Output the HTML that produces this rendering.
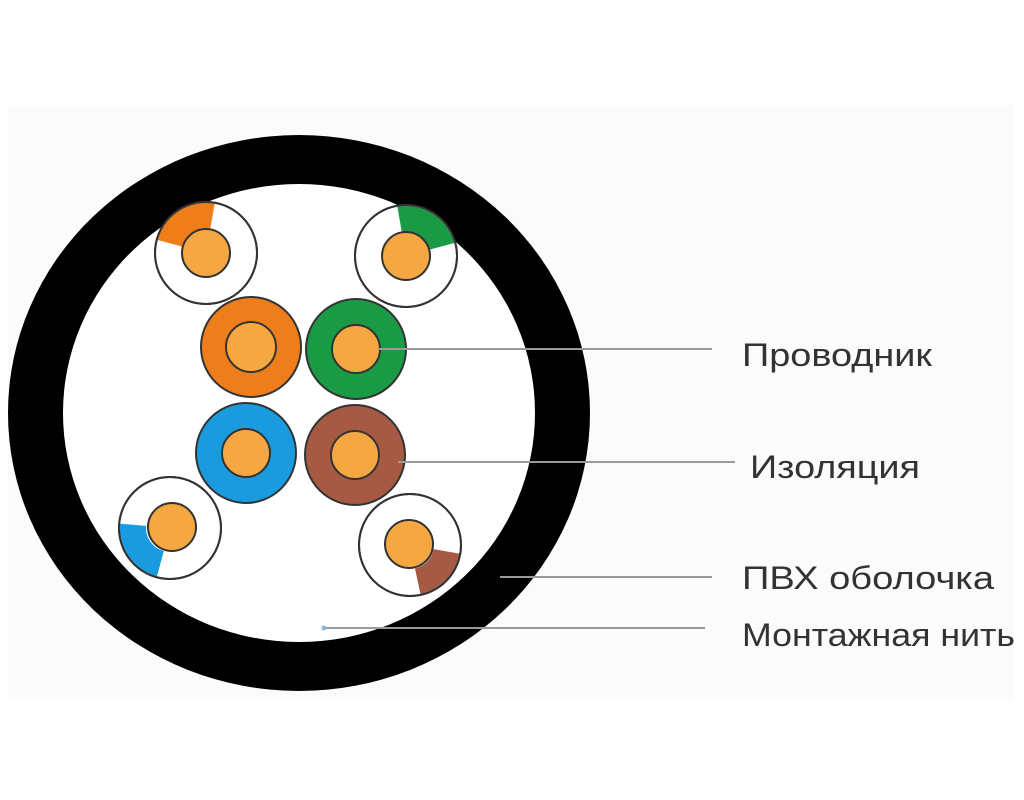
<!DOCTYPE html>
<html><head><meta charset="utf-8"><style>
html,body{margin:0;padding:0;background:#fff;}
svg{display:block;}
text{font-family:"Liberation Sans",sans-serif;fill:#333;}
</style></head><body>
<svg width="1024" height="800" viewBox="0 0 1024 800" xmlns="http://www.w3.org/2000/svg">
<rect x="0" y="0" width="1024" height="800" fill="#fff"/>
<rect x="8" y="105" width="1006" height="595" fill="#fbfbfb"/>
<ellipse cx="299" cy="413" rx="291" ry="278" fill="#000"/>
<ellipse cx="299" cy="413" rx="236" ry="229" fill="#fff"/>

<g stroke="#333" stroke-width="2">
<circle cx="206" cy="253" r="51" fill="#fff"/>
<path d="M212.4,216.6 A37,37 0 0 0 170.3,243.4" stroke="#ef7d1a" stroke-width="26" fill="none"/>
<circle cx="206" cy="253" r="51" fill="none"/>
<circle cx="206" cy="253" r="24" fill="#f5a742"/>
<circle cx="406" cy="256" r="51" fill="#fff"/>
<path d="M399.6,219.6 A37,37 0 0 1 441.7,246.4" stroke="#1a9a45" stroke-width="26" fill="none"/>
<circle cx="406" cy="256" r="51" fill="none"/>
<circle cx="406" cy="256" r="24" fill="#f5a742"/>
<circle cx="170" cy="528" r="51" fill="#fff"/>
<path d="M133.1,524.8 A37,37 0 0 0 160.4,563.7" stroke="#1a9be0" stroke-width="26" fill="none"/>
<circle cx="170" cy="528" r="51" fill="none"/>
<circle cx="172" cy="527" r="24" fill="#f5a742"/>
<circle cx="410" cy="545" r="51" fill="#fff"/>
<path d="M446.4,551.4 A37,37 0 0 1 417.7,581.2" stroke="#a65a43" stroke-width="26" fill="none"/>
<circle cx="410" cy="545" r="51" fill="none"/>
<circle cx="409" cy="544" r="24" fill="#f5a742"/>

<circle cx="251" cy="347" r="50" fill="#ee7d1b"/>
<circle cx="251" cy="347" r="25" fill="#f5a742"/>
<circle cx="356" cy="349" r="50" fill="#1a9a45"/>
<circle cx="356" cy="349" r="24" fill="#f5a742"/>
<circle cx="246" cy="453" r="50" fill="#1a9be0"/>
<circle cx="246" cy="453" r="24" fill="#f5a742"/>
<circle cx="355" cy="455" r="50" fill="#a65a43"/>
<circle cx="355" cy="455" r="24" fill="#f5a742"/>
</g>

<g stroke="#9a9a9a" stroke-width="2">
<line x1="378" y1="349" x2="712" y2="349"/>
<line x1="398" y1="462" x2="735" y2="462"/>
<line x1="500" y1="577" x2="712" y2="577"/>
<line x1="322" y1="628" x2="705" y2="628"/>
</g>
<circle cx="324" cy="628" r="2.5" fill="#8fb8e0"/>

<text x="742" y="366" font-size="32" textLength="190" lengthAdjust="spacingAndGlyphs">Проводник</text>
<text x="750" y="478" font-size="32" textLength="170" lengthAdjust="spacingAndGlyphs">Изоляция</text>
<text x="742" y="589" font-size="32" textLength="252" lengthAdjust="spacingAndGlyphs">ПВХ оболочка</text>
<text x="742" y="646" font-size="32" textLength="273" lengthAdjust="spacingAndGlyphs">Монтажная нить</text>
</svg>
</body></html>
